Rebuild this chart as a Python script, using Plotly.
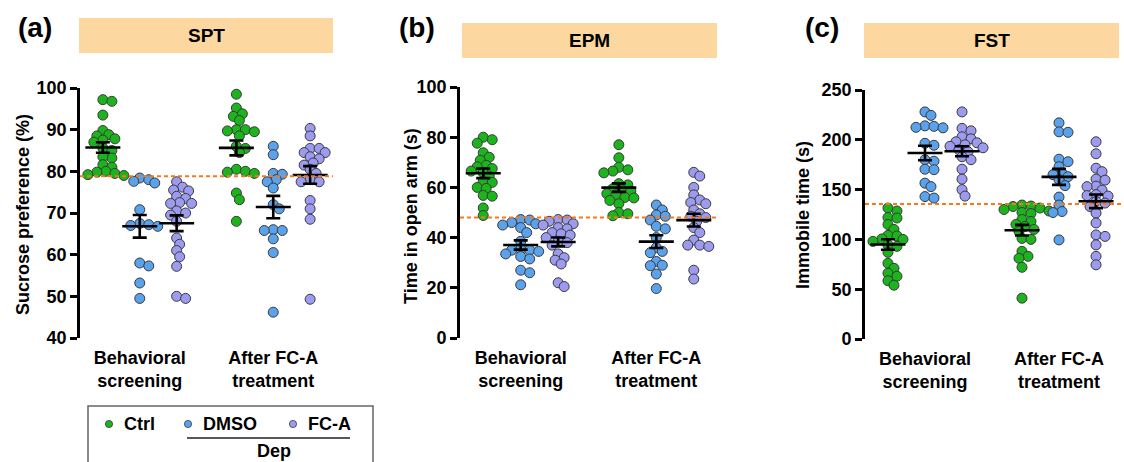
import numpy as np
import plotly.graph_objects as go

W, H = 1124, 462

groups = ["Ctrl", "DMSO", "FC-A"]
phases = ["Behavioral<br>screening", "After FC-A<br>treatment"]
colors = {"Ctrl": "#1cb41c", "DMSO": "#5aa2ec", "FC-A": "#9d9bf0"}

# ---- SPT: sucrose preference (%) ----
spt_ctrl_bs = [97.2, 96.8, 93.5, 89.8, 88.8, 88.5, 87.8, 87.5, 87.0, 85.6, 85.0, 83.2, 83.5, 81.6, 81.0, 80.0, 79.8, 79.5, 79.2, 79.0]
spt_dmso_bs = [78.4, 78.0, 77.6, 77.2, 70.8, 67.5, 67.2, 67.0, 66.8, 58.0, 57.3, 53.2, 49.5]
spt_fca_bs = [77.5, 76.2, 75.5, 75.3, 74.0, 73.5, 72.5, 72.3, 72.3, 70.5, 70.0, 69.5, 68.0, 64.0, 62.5, 61.0, 59.5, 57.2, 50.0, 49.5]
spt_ctrl_af = [98.5, 95.2, 93.8, 93.2, 92.2, 90.0, 89.7, 90.0, 89.5, 88.5, 86.0, 85.5, 84.5, 80.5, 80.0, 79.8, 79.5, 74.8, 73.2, 68.0]
spt_dmso_af = [86.0, 84.0, 79.5, 79.3, 78.0, 77.5, 76.0, 72.0, 71.0, 66.0, 65.8, 65.8, 63.8, 60.5, 46.2]
spt_fca_af = [90.3, 88.5, 85.5, 85.5, 84.5, 84.5, 83.5, 83.0, 82.0, 81.5, 80.5, 79.5, 78.0, 77.5, 77.5, 73.0, 71.0, 68.5, 49.3]
spt_cutoff = 78.8

# ---- EPM: time in open arm (s) ----
epm_ctrl_bs = [80.0, 79.0, 77.6, 73.8, 72.0, 70.8, 68.8, 68.2, 67.5, 66.5, 65.8, 64.5, 62.3, 62.0, 60.0, 59.6, 56.8, 56.5, 51.8, 48.8]
epm_dmso_bs = [47.2, 47.0, 46.0, 45.5, 45.0, 44.0, 42.0, 38.5, 35.5, 35.0, 35.0, 34.5, 33.5, 32.5, 31.5, 27.0, 26.0, 21.2]
epm_fca_bs = [47.2, 47.0, 46.5, 45.5, 45.0, 44.0, 43.5, 42.0, 41.5, 41.0, 40.0, 38.5, 38.0, 37.0, 33.5, 32.0, 31.0, 29.5, 22.0, 20.5]
epm_ctrl_af = [77.0, 71.8, 68.0, 67.0, 66.5, 65.8, 61.5, 61.0, 59.0, 59.5, 58.5, 57.5, 57.0, 56.0, 55.8, 54.8, 53.5, 50.0, 49.5, 48.7]
epm_dmso_af = [53.0, 51.0, 49.0, 48.5, 47.0, 44.5, 43.5, 40.0, 36.0, 34.0, 34.5, 30.5, 29.0, 28.8, 25.5, 19.7]
epm_fca_af = [66.0, 64.5, 60.0, 57.0, 55.0, 54.0, 53.5, 51.0, 49.5, 48.5, 48.0, 46.5, 44.0, 42.0, 39.0, 37.0, 37.0, 36.5, 27.0, 23.5]
epm_cutoff = 48.0

# ---- FST: immobile time (s) ----
fst_ctrl_bs = [131.5, 128.5, 122.0, 121.5, 115.0, 110.0, 104.0, 103.5, 100.5, 100.0, 98.0, 94.5, 93.0, 87.0, 76.0, 71.0, 66.0, 63.0, 58.5, 54.0]
fst_dmso_bs = [228.0, 224.5, 214.0, 213.5, 212.5, 212.0, 196.5, 194.5, 180.0, 178.5, 170.5, 170.0, 156.5, 153.0, 143.0, 141.5]
fst_fca_bs = [228.0, 211.5, 209.0, 203.0, 201.0, 198.0, 197.0, 195.0, 193.5, 192.0, 190.0, 188.0, 183.0, 180.0, 170.5, 160.5, 150.0, 143.5]
fst_ctrl_af = [134.5, 133.5, 133.0, 131.5, 130.0, 128.5, 127.0, 126.0, 120.0, 118.0, 115.0, 113.0, 110.0, 108.0, 101.0, 100.0, 88.0, 83.0, 81.0, 72.0, 41.0]
fst_dmso_af = [217.0, 208.0, 207.5, 180.5, 178.0, 173.0, 166.5, 165.0, 163.0, 160.0, 154.0, 142.5, 134.5, 128.0, 127.0, 99.5]
fst_fca_af = [198.0, 186.0, 171.5, 168.0, 160.5, 159.5, 153.5, 153.0, 149.5, 145.0, 144.0, 143.5, 138.0, 136.5, 133.0, 126.5, 116.5, 104.5, 103.0, 94.5, 83.0, 74.5]
fst_cutoff = 135.5

panels = [
    dict(tag="(a)", title="SPT", ytitle="Sucrose preference (%)", yrange=[40, 100], dtick=10,
         data=[spt_ctrl_bs, spt_dmso_bs, spt_fca_bs, spt_ctrl_af, spt_dmso_af, spt_fca_af], cut=spt_cutoff,
         xpx=[80, 333], ypx=[88, 338], box=[79, 18, 333, 53], tagpos=[35, 28], dash_end=1.0, ytx=[23, 215]),
    dict(tag="(b)", title="EPM", ytitle="Time in open arm (s)", yrange=[0, 100], dtick=20,
         data=[epm_ctrl_bs, epm_dmso_bs, epm_fca_bs, epm_ctrl_af, epm_dmso_af, epm_fca_af], cut=epm_cutoff,
         xpx=[460, 717], ypx=[87, 338], box=[462, 23, 717, 58], tagpos=[417, 28], dash_end=1.0, ytx=[411, 216]),
    dict(tag="(c)", title="FST", ytitle="Immobile time (s)", yrange=[0, 250], dtick=50,
         data=[fst_ctrl_bs, fst_dmso_bs, fst_fca_bs, fst_ctrl_af, fst_dmso_af, fst_fca_af], cut=fst_cutoff,
         xpx=[865, 1119], ypx=[90, 339], box=[864, 23, 1119, 58], tagpos=[822, 28], dash_end=1.03, ytx=[803, 215]),
]

xpos = [0, 1, 2, 3.62, 4.62, 5.62]
xrange_ = [-0.62, 6.24]
group_of = [0, 1, 2, 0, 1, 2]


def px_x(p):
    return p / W


def px_y(p):
    return 1 - p / H


def swarm(vals, ky, kx, d=6.8, step=3.0):
    vals = np.asarray(vals, float)
    order = np.argsort(-vals, kind="stable")
    placed = []
    offs = np.zeros(len(vals))
    for i in order:
        y = vals[i] * ky
        cand = 0.0
        for k in range(80):
            cand = 0.0 if k == 0 else ((k + 1) // 2) * step * (1 if k % 2 else -1)
            if all((cand - px) ** 2 + (y - py) ** 2 >= d ** 2 for px, py in placed):
                break
        placed.append((cand, y))
        offs[i] = cand / kx
    return offs


fig = go.Figure()
shapes = []
annotations = []
BOLD = dict(family="Liberation Sans, Arial, sans-serif", color="black", weight="bold")

for pi, P in enumerate(panels):
    ax = "" if pi == 0 else str(pi + 1)
    xd = [px_x(P["xpx"][0]), px_x(P["xpx"][1])]
    yd = [px_y(P["ypx"][1]), px_y(P["ypx"][0])]
    kx = (P["xpx"][1] - P["xpx"][0]) / (xrange_[1] - xrange_[0])
    ky = (P["ypx"][1] - P["ypx"][0]) / (P["yrange"][1] - P["yrange"][0])
    means, sems = [], []
    for j, vals in enumerate(P["data"]):
        g = groups[group_of[j]]
        offs = swarm(vals, ky, kx)
        arr = np.asarray(vals, float)
        means.append(arr.mean())
        sems.append(arr.std(ddof=1) / np.sqrt(len(arr)))
        fig.add_trace(go.Scatter(
            x=xpos[j] + offs, y=arr, mode="markers", xaxis="x" + ax, yaxis="y" + ax,
            marker=dict(size=10, color=colors[g], line=dict(color="#3a3a3a", width=1)),
            showlegend=False, cliponaxis=False, hoverinfo="y"))
    fig.add_trace(go.Scatter(
        x=xpos, y=means, mode="markers", xaxis="x" + ax, yaxis="y" + ax,
        marker=dict(symbol="line-ew", size=25, color="black", line=dict(color="black", width=2.6)),
        error_y=dict(type="data", array=sems, visible=True, width=7, thickness=2.6, color="black"),
        showlegend=False, cliponaxis=False, hoverinfo="y"))

    fig.update_layout(**{
        "xaxis" + ax: dict(domain=xd, range=xrange_, showline=False, showgrid=False, zeroline=False,
                           tickvals=[1, 4.62], ticktext=phases, ticks="", ticklabelstandoff=7,
                           tickfont=dict(size=18, **BOLD), anchor="y" + ax, fixedrange=True,
                           automargin=False),
        "yaxis" + ax: dict(domain=yd, range=P["yrange"], dtick=P["dtick"], showline=True, linewidth=2.6,
                           linecolor="black", ticks="outside", ticklen=7, tickwidth=2.6, tickcolor="black",
                           showgrid=False, zeroline=False, tickfont=dict(size=18, **BOLD),
                           anchor="x" + ax, fixedrange=True, automargin=False),
    })
    # y-axis title placed as rotated text
    annotations.append(dict(text=P["ytitle"], xref="paper", yref="paper", x=px_x(P["ytx"][0]),
                            y=px_y(P["ytx"][1]), textangle=-90, showarrow=False, xanchor="center",
                            yanchor="middle", font=dict(size=18, **BOLD)))
    # cutoff line
    shapes.append(dict(type="line", xref="x" + ax + " domain", yref="y" + ax, x0=0, x1=P["dash_end"],
                       y0=P["cut"], y1=P["cut"], line=dict(color="#f57a1c", width=2, dash="4px,3px")))
    # title box
    b = P["box"]
    shapes.append(dict(type="rect", xref="paper", yref="paper", x0=px_x(b[0]), x1=px_x(b[2]),
                       y0=px_y(b[3]), y1=px_y(b[1]), fillcolor="#fcd8a0", line=dict(width=0), layer="below"))
    annotations.append(dict(text=P["title"], xref="paper", yref="paper", x=px_x((b[0] + b[2]) / 2),
                            y=px_y((b[1] + b[3]) / 2), showarrow=False, xanchor="center", yanchor="middle",
                            font=dict(size=19, **BOLD)))
    annotations.append(dict(text=P["tag"], xref="paper", yref="paper", x=px_x(P["tagpos"][0]),
                            y=px_y(P["tagpos"][1]), showarrow=False, xanchor="center", yanchor="middle",
                            font=dict(size=28, **BOLD)))

# legend box (drawn manually)
shapes.append(dict(type="rect", xref="paper", yref="paper", x0=px_x(88), x1=px_x(373), y0=px_y(475), y1=px_y(406),
                   line=dict(color="#666666", width=1.5), fillcolor="rgba(0,0,0,0)"))
leg_items = [("Ctrl", 109, 122), ("DMSO", 188, 201), ("FC-A", 293, 306)]
for name, cx, tx in leg_items:
    r = 3.6
    shapes.append(dict(type="circle", xref="paper", yref="paper", x0=px_x(cx - r), x1=px_x(cx + r),
                       y0=px_y(424 + r), y1=px_y(424 - r), fillcolor=colors[name],
                       line=dict(color="#3a3a3a", width=0.8)))
    annotations.append(dict(text=name, xref="paper", yref="paper", x=px_x(tx), y=px_y(424), showarrow=False,
                            xanchor="left", yanchor="middle", font=dict(size=18, **BOLD)))
shapes.append(dict(type="line", xref="paper", yref="paper", x0=px_x(187), x1=px_x(350), y0=px_y(438), y1=px_y(438),
                   line=dict(color="#222222", width=1.5)))
annotations.append(dict(text="Dep", xref="paper", yref="paper", x=px_x(274), y=px_y(451), showarrow=False,
                        xanchor="center", yanchor="middle", font=dict(size=18, **BOLD)))

fig.update_layout(width=W, height=H, margin=dict(l=0, r=0, t=0, b=0, pad=0, autoexpand=False),
                  paper_bgcolor="white", plot_bgcolor="white", shapes=shapes, annotations=annotations,
                  showlegend=False)

post = (
    "document.documentElement.style.margin='0';document.documentElement.style.padding='0';"
    "document.documentElement.style.overflow='hidden';"
    "document.body.style.margin='0';document.body.style.padding='0';"
    "document.body.style.overflow='hidden';"
)
fig.write_html("out.html", config={"responsive": False, "displayModeBar": False}, post_script=post)
